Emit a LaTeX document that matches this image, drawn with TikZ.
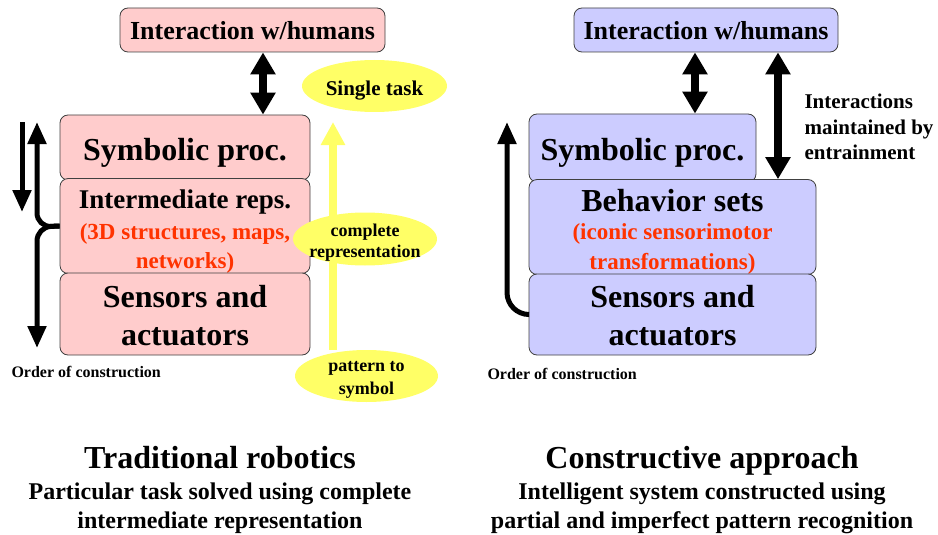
\documentclass[tikz,border=0pt]{standalone}
\usepackage{fontspec}
\setmainfont{Liberation Serif}
\usetikzlibrary{arrows.meta,shapes.geometric}
\definecolor{boxpink}{RGB}{255,204,204}
\definecolor{boxblue}{RGB}{204,204,255}
\definecolor{reptext}{RGB}{255,51,0}
\definecolor{bubble}{RGB}{255,255,102}
\newcommand{\fs}[2]{\fontsize{#1}{#2}\selectfont\bfseries}
\newcommand{\lift}[1]{\rule{0pt}{#1pt}}

\begin{document}
\begin{tikzpicture}[x=1pt,y=1pt,yscale=-1,xscale=1,
  layer/.style={draw=black!75, line width=0.8pt, rounded corners=8pt, inner sep=0pt, align=center},
  pinklayer/.style={layer, fill=boxpink},
  bluelayer/.style={layer, fill=boxblue},
  bubblenode/.style={ellipse, fill=bubble, inner sep=-6pt, align=center},
  bigarrow/.style={line width=8pt, {Triangle[width=24pt,length=22pt]}-{Triangle[width=24pt,length=22pt]}},
  orderarrow/.style={line width=5pt, -{Triangle[width=18pt,length=22pt]}},
]
\useasboundingbox (0,0) rectangle (938,535);
%Traditional robotics: layers
\node[pinklayer, minimum width=265, minimum height=44, font=\fs{26}{30}] (ihumL) at (252.5,30) {\lift{20}Interaction w/humans};
\node[pinklayer, minimum width=250, minimum height=65, font=\fs{32}{36}] (symbL) at (185,147.5) {\lift{32}Symbolic proc.};
\node[pinklayer, minimum width=250, minimum height=88, font=\fs{23}{29}] (interL) at (185,226)
  {{\fs{27}{30}\lift{30}Intermediate reps.}\\[2pt]\textcolor{reptext}{(3D structures, maps,}\\\textcolor{reptext}{networks)}};
\node[pinklayer, minimum width=250, minimum height=82, font=\fs{32}{38}] (sensL) at (185,314) {\lift{26}Sensors and\\actuators};
%double arrow to humans
\coordinate (la) at (263,0);
\draw[bigarrow] (la |- ihumL.south) -- (la |- symbL.north);
%order of construction
\coordinate (dA) at (22,122);
\coordinate (dB) at (22,212);
\coordinate (brk) at (37,227);
\coordinate (brkEnd) at (37,348);
\draw[orderarrow] (dA) -- (dB);
\draw[orderarrow, rounded corners=14pt] (interL.west) -- (brk) -- (brk |- dA);
\draw[orderarrow, rounded corners=14pt] (interL.west) -- (brk) -- (brkEnd);
\node[anchor=west, font=\fs{16}{18}] (ordL) at (8,372) {Order of construction};
%yellow bubbles
\node[bubblenode, minimum width=143, minimum height=52, font=\fs{18}{22.5}] (pat) at (366.5,376) {\lift{18}pattern to\\symbol};
\coordinate (yhead) at (333,122);
\draw[line width=8pt, bubble, -{Triangle[width=23pt,length=23pt]}] (yhead |- pat.north) -- (yhead);
\node[bubblenode, minimum width=144, minimum height=53, font=\fs{18}{21}] (crep) at (365,239) {\lift{20}complete\\representation};
\node[bubblenode, minimum width=145, minimum height=52, font=\fs{21}{24}] (task) at (374.5,86) {\lift{24}Single task};
% Text Node
\node[anchor=base, font=\fs{32}{36}] (tradT) at (220,468) {Traditional robotics};
\node[align=center, font=\fs{24}{29}] (tradS) at (220,508) {Particular task solved using complete\\intermediate representation};

%Constructive approach: layers
\node[bluelayer, minimum width=264, minimum height=44, font=\fs{26}{30}] (ihumR) at (706,30) {\lift{20}Interaction w/humans};
\node[bluelayer, minimum width=227, minimum height=68, font=\fs{32}{36}] (symbR) at (642.5,148) {\lift{32}Symbolic proc.};
\node[bluelayer, minimum width=287, minimum height=90, font=\fs{23}{30}] (behR) at (672.5,227)
  {{\fs{32}{34}\lift{32}Behavior sets}\\[-2pt]\textcolor{reptext}{(iconic sensorimotor}\\\textcolor{reptext}{transformations)}};
\node[bluelayer, minimum width=287, minimum height=81, font=\fs{32}{38}] (sensR) at (672.5,314.5) {\lift{24}Sensors and\\actuators};
%double arrows
\coordinate (ra) at (695,0);
\coordinate (rb) at (778,0);
\draw[bigarrow] (ra |- ihumR.south) -- (ra |- symbR.north);
\draw[bigarrow] (rb |- ihumR.south) -- (rb |- behR.north);
\node[anchor=west, align=left, font=\fs{21}{25.5}] (entr) at (801,127) {Interactions\\maintained by\\entrainment};
%order of construction
\coordinate (upR) at (507,122);
\draw[orderarrow, rounded corners=22pt] (sensR.west) -- (upR |- sensR.west) -- (upR);
\node[anchor=west, font=\fs{16}{18}] (ordR) at (484,374) {Order of construction};
% Text Node
\node[anchor=base, font=\fs{32}{36}] (consT) at (702,468) {Constructive approach};
\node[align=center, font=\fs{24}{29}] (consS) at (702,508) {Intelligent system constructed using\\partial and imperfect pattern recognition};
\end{tikzpicture}
\end{document}
